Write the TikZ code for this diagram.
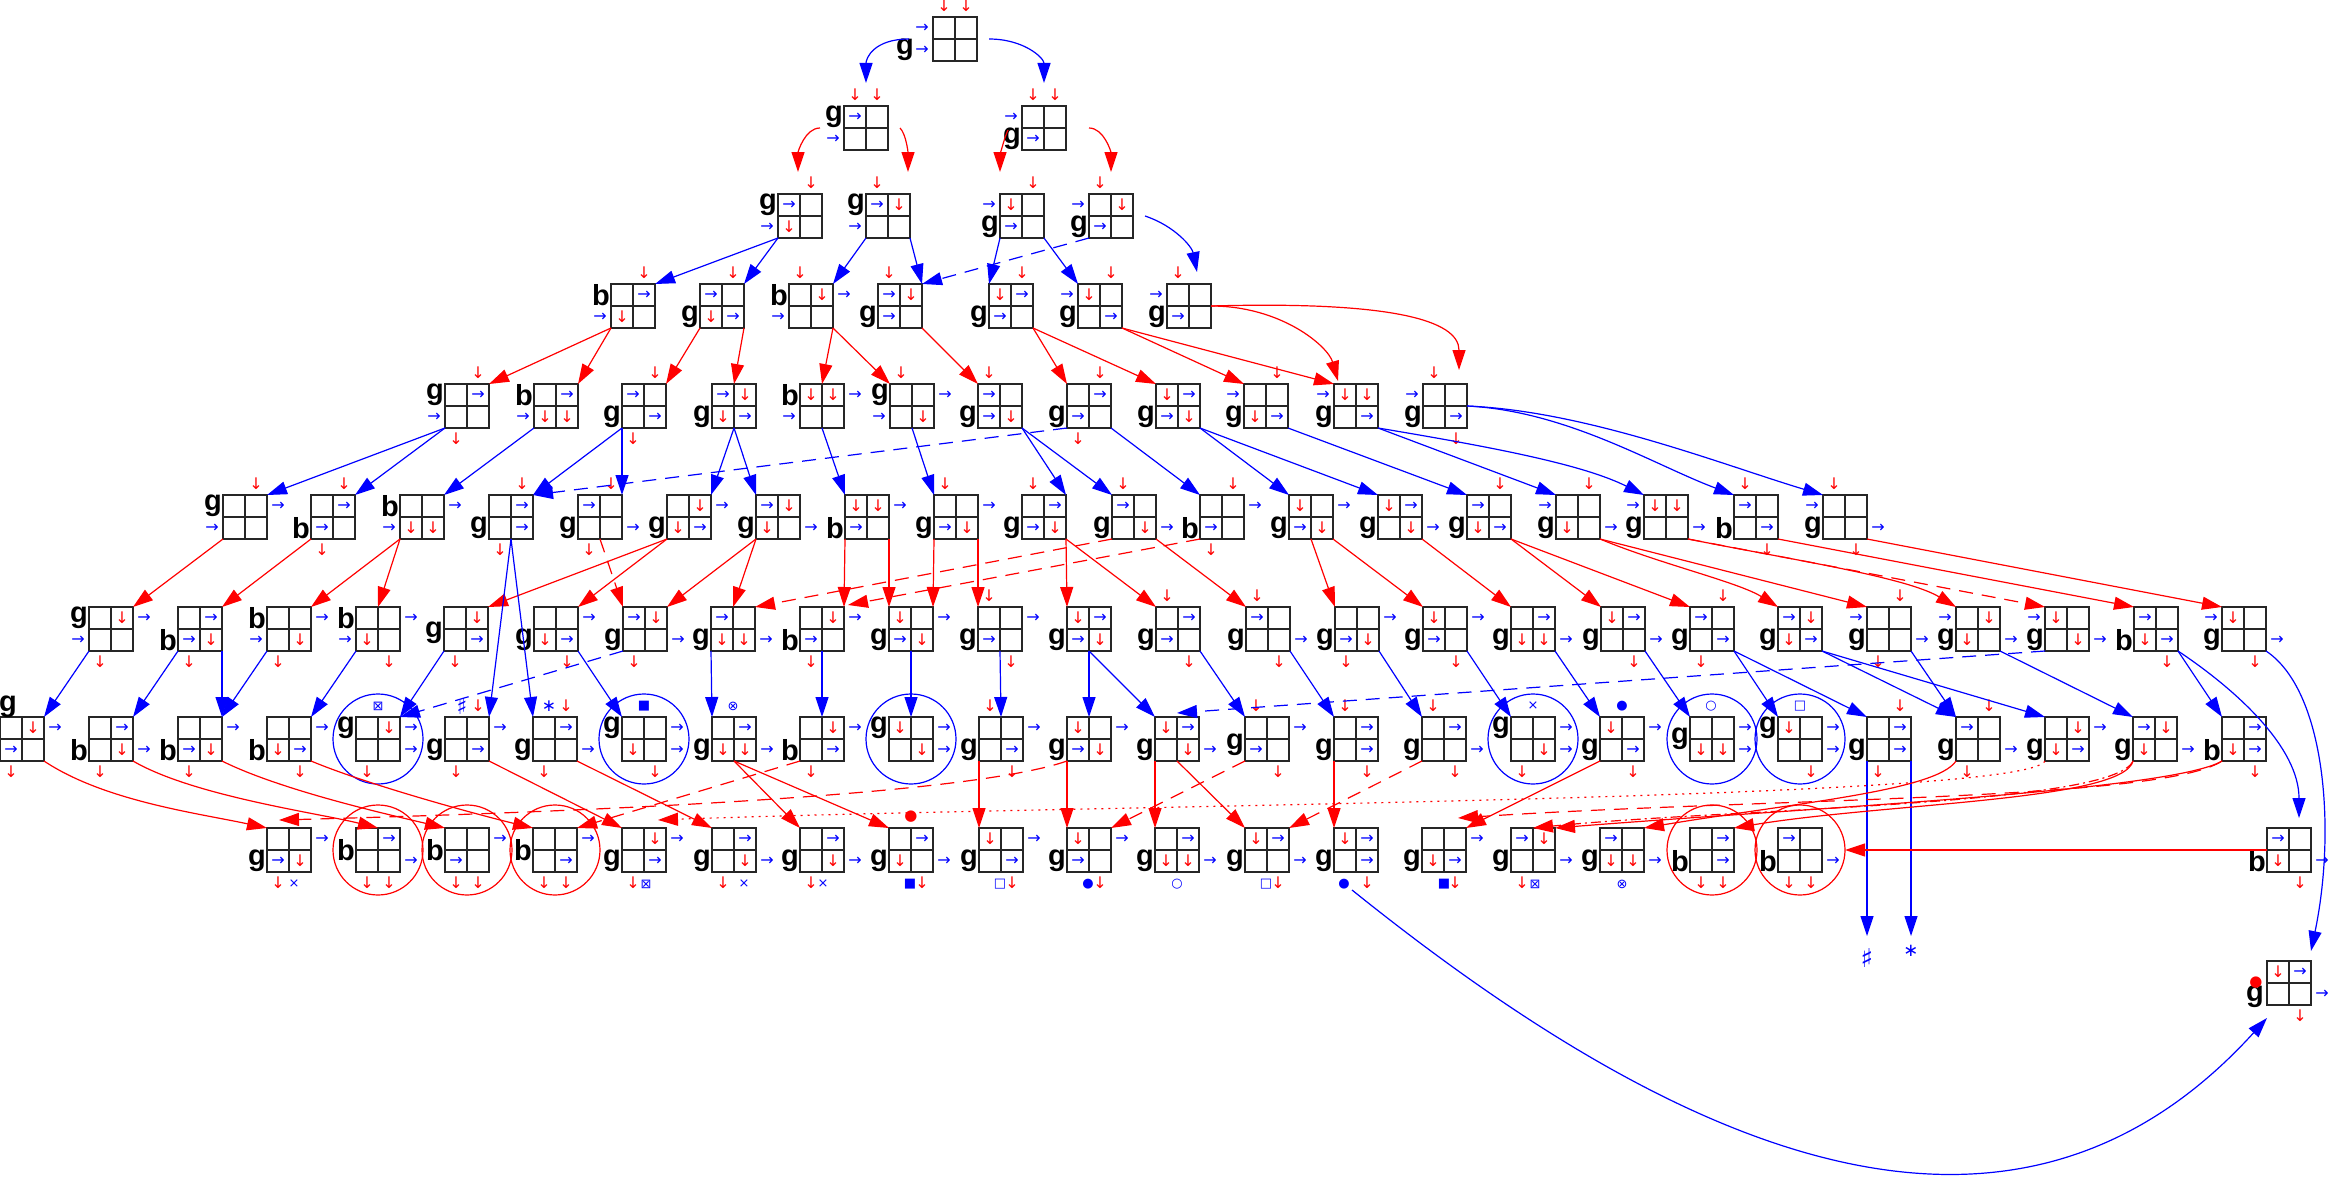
\documentclass[tikz,border=0pt]{standalone}
\usepackage{fontspec}
\setmainfont{Liberation Sans}
\newfontfamily\dv{DejaVu Sans}
\usetikzlibrary{arrows.meta,calc}
\tikzset{
  gridline/.style={draw=black!85, line width=1.4pt},
  ba/.style={text=blue, font=\dv\fontsize{16}{16}\selectfont, inner sep=0pt},
  ra/.style={text=red, font=\dv\fontsize{16}{16}\selectfont, inner sep=0pt},
  lbl/.style={font=\bfseries\fontsize{29}{29}\selectfont, inner sep=0pt, anchor=east},
  sym/.style={text=blue, font=\dv\fontsize{13}{13}\selectfont, inner sep=0pt},
  rsym/.style={text=red, font=\dv\fontsize{15}{15}\selectfont, inner sep=0pt},
  bl/.style={draw=blue, line width=1.2pt, -{Triangle[length=20pt,width=13pt]}},
  rd/.style={draw=red, line width=1.2pt, -{Triangle[length=20pt,width=13pt]}},
  dsh/.style={dash pattern=on 14pt off 9pt},
  dotl/.style={dash pattern=on 2pt off 5pt},
  dshdot/.style={dash pattern=on 10pt off 4pt on 2pt off 4pt},
  bcirc/.style={draw=blue, line width=1.2pt},
  rcirc/.style={draw=red, line width=1.2pt}
}
\newcommand\defit[2]{\expandafter\def\csname gi#1\endcsname{#2}}
\defit{L1}{\node[ba] at (-11,11) {→};}
\defit{L2}{\node[ba] at (-11,33) {→};}
\defit{R1}{\node[ba] at (55,11) {→};}
\defit{R2}{\node[ba] at (55,33) {→};}
\defit{T1}{\node[ra] at (11,-11) {↓};}
\defit{T2}{\node[ra] at (33,-11) {↓};}
\defit{B1}{\node[ra] at (11,55) {↓};}
\defit{B2}{\node[ra] at (33,55) {↓};}
\defit{ar}{\node[ba] at (11,11) {→};}
\defit{ad}{\node[ra] at (11,11) {↓};}
\defit{br}{\node[ba] at (33,11) {→};}
\defit{bd}{\node[ra] at (33,11) {↓};}
\defit{cr}{\node[ba] at (11,33) {→};}
\defit{cd}{\node[ra] at (11,33) {↓};}
\defit{dr}{\node[ba] at (33,33) {→};}
\defit{dd}{\node[ra] at (33,33) {↓};}
\newcommand\gnode[7]{%
  \begin{scope}[shift={(#2,#3)}]
    \draw[gridline] (0,0) rectangle (44,44) (22,0) -- (22,44) (0,22) -- (44,22);
    \node[inner sep=0pt, outer sep=0pt, minimum size=44pt, anchor=north west] (#1) at (0,0) {};
    \foreach \q in {#4}{\csname gi\q\endcsname}
    \node[lbl] at (#6,#7) {#5};
  \end{scope}}
\begin{document}
\begin{tikzpicture}[x=1pt,y=-1pt]
\fill[white] (0,0) rectangle (2339,1180);
\useasboundingbox (0,0) rectangle (2339,1180);
% row 0
\gnode{n0}{933}{17}{T1,T2,L1,L2}{g}{-19}{33}
% row 1
\gnode{n1a}{844}{106}{T1,T2,L2,ar}{g}{-1}{11}
\gnode{n1b}{1022}{106}{T1,T2,L1,cr}{g}{-1}{33}
% row 2
\gnode{n2a}{778}{194}{T2,L2,ar,cd}{g}{-1}{11}
\gnode{n2b}{866}{194}{T1,L2,ar,bd}{g}{-1}{11}
\gnode{n2c}{1000}{194}{T2,L1,ad,cr}{g}{-1}{33}
\gnode{n2d}{1089}{194}{T1,L1,bd,cr}{g}{-1}{33}
% row 3
\gnode{n3a}{611}{284}{T2,L2,br,cd}{b}{-1}{11}
\gnode{n3b}{700}{284}{T2,ar,cd,dr}{g}{-1}{33}
\gnode{n3c}{789}{284}{T1,L2,bd,R1}{b}{-1}{11}
\gnode{n3d}{878}{284}{T1,ar,bd,cr}{g}{-1}{33}
\gnode{n3e}{989}{284}{T2,ad,br,cr}{g}{-1}{33}
\gnode{n3f}{1078}{284}{T2,L1,ad,dr}{g}{-1}{33}
\gnode{n3g}{1167}{284}{T1,L1,cr}{g}{-1}{33}
% row 4
\gnode{n4a}{445}{384}{T2,L2,br,B1}{g}{-1}{11}
\gnode{n4b}{534}{384}{L2,br,cd,dd}{b}{-1}{11}
\gnode{n4c}{622}{384}{T2,ar,dr,B1}{g}{-1}{33}
\gnode{n4d}{712}{384}{ar,bd,cd,dr}{g}{-1}{33}
\gnode{n4e}{800}{384}{L2,ad,bd,R1}{b}{-1}{11}
\gnode{n4f}{890}{384}{T1,L2,dd,R1}{g}{-1}{11}
\gnode{n4g}{978}{384}{T1,ar,cr,dd}{g}{-1}{33}
\gnode{n4h}{1067}{384}{T2,br,cr,B1}{g}{-1}{33}
\gnode{n4i}{1156}{384}{ad,br,cr,dd}{g}{-1}{33}
\gnode{n4j}{1244}{384}{T2,L1,cd,dr}{g}{-1}{33}
\gnode{n4k}{1334}{384}{L1,ad,bd,dr}{g}{-1}{33}
\gnode{n4l}{1423}{384}{T1,L1,dr,B2}{g}{-1}{33}
% row 5
\gnode{n5a}{223}{495}{T2,L2,R1}{g}{-1}{11}
\gnode{n5b}{311}{495}{T2,br,cr,B1}{b}{-1}{33}
\gnode{n5c}{400}{495}{L2,cd,dd,R1}{b}{-1}{11}
\gnode{n5d}{489}{495}{T2,br,dr,B1}{g}{-1}{33}
\gnode{n5e}{578}{495}{T2,ar,R2,B1}{g}{-1}{33}
\gnode{n5f}{667}{495}{bd,cd,dr,R1}{g}{-1}{33}
\gnode{n5g}{756}{495}{ar,bd,cd,R2}{g}{-1}{33}
\gnode{n5h}{845}{495}{ad,bd,cr,R1}{b}{-1}{33}
\gnode{n5i}{934}{495}{T1,cr,dd,R1}{g}{-1}{33}
\gnode{n5j}{1022}{495}{T1,br,cr,dd}{g}{-1}{33}
\gnode{n5k}{1112}{495}{T1,ar,dd,R2}{g}{-1}{33}
\gnode{n5l}{1200}{495}{T2,cr,R1,B1}{b}{-1}{33}
\gnode{n5m}{1289}{495}{ad,cr,dd,R1}{g}{-1}{33}
\gnode{n5n}{1378}{495}{ad,br,dd,R2}{g}{-1}{33}
\gnode{n5o}{1467}{495}{T2,ar,cd,dr}{g}{-1}{33}
\gnode{n5p}{1556}{495}{T2,L1,cd,R2}{g}{-1}{33}
\gnode{n5q}{1644}{495}{L1,ad,bd,R2}{g}{-1}{33}
\gnode{n5r}{1734}{495}{T1,ar,dr,B2}{b}{-1}{33}
\gnode{n5s}{1823}{495}{T1,L1,R2,B2}{g}{-1}{33}
% row 6
\gnode{n6a}{89}{607}{L2,bd,R1,B1}{g}{-1}{11}
\gnode{n6b}{178}{607}{br,cr,dd,B1}{b}{-1}{33}
\gnode{n6c}{267}{607}{L2,dd,R1,B1}{b}{-1}{11}
\gnode{n6d}{356}{607}{L2,cd,R1,B2}{b}{-1}{11}
\gnode{n6e}{444}{607}{bd,dr,B1}{g}{-1}{26}
\gnode{n6f}{534}{607}{cd,dr,R1,B2}{g}{-1}{33}
\gnode{n6g}{623}{607}{ar,bd,R2,B1}{g}{-1}{33}
\gnode{n6h}{711}{607}{ar,cd,dd,R2}{g}{-1}{33}
\gnode{n6i}{800}{607}{bd,cr,R1,B1}{b}{-1}{33}
\gnode{n6j}{889}{607}{ad,cr,dd,R1}{g}{-1}{33}
\gnode{n6k}{978}{607}{T1,cr,R1,B2}{g}{-1}{33}
\gnode{n6l}{1067}{607}{ad,br,cr,dd}{g}{-1}{33}
\gnode{n6m}{1156}{607}{T1,br,cr,B2}{g}{-1}{33}
\gnode{n6n}{1246}{607}{T1,ar,R2,B2}{g}{-1}{33}
\gnode{n6o}{1335}{607}{cr,dd,R1,B1}{g}{-1}{33}
\gnode{n6p}{1423}{607}{ad,cr,R1,B2}{g}{-1}{33}
\gnode{n6q}{1511}{607}{br,cd,dd,R2}{g}{-1}{33}
\gnode{n6r}{1601}{607}{ad,br,R2,B2}{g}{-1}{33}
\gnode{n6s}{1690}{607}{T2,ar,dr,B1}{g}{-1}{33}
\gnode{n6t}{1778}{607}{ar,bd,cd,dr}{g}{-1}{33}
\gnode{n6u}{1867}{607}{T2,L1,R2,B1}{g}{-1}{33}
\gnode{n6v}{1956}{607}{L1,bd,cd,R2}{g}{-1}{33}
\gnode{n6w}{2045}{607}{L1,ad,dd,R2}{g}{-1}{33}
\gnode{n6x}{2134}{607}{ar,cd,dr,B2}{b}{-1}{33}
\gnode{n6y}{2222}{607}{L1,ad,R2,B2}{g}{-1}{33}
% row 7
\gnode{n7a}{0}{717}{bd,cr,R1,B1}{g}{17}{-10}
\gnode{n7b}{89}{717}{br,dd,R2,B1}{b}{-1}{33}
\gnode{n7c}{178}{717}{cr,dd,R1,B1}{b}{-1}{33}
\gnode{n7d}{267}{717}{cd,dr,R1,B2}{b}{-1}{33}
\gnode{n7e}{356}{717}{bd,R1,R2,B1}{g}{-1}{11}
\gnode{n7f}{445}{717}{T2,dr,R1,B1}{g}{-1}{33}
\gnode{n7g}{533}{717}{T2,br,R2,B1}{g}{-1}{33}
\gnode{n7h}{622}{717}{cd,R1,R2,B2}{g}{-1}{11}
\gnode{n7i}{712}{717}{br,cd,dd,R2}{g}{-1}{33}
\gnode{n7j}{800}{717}{bd,dr,R1,B1}{b}{-1}{33}
\gnode{n7k}{889}{717}{ad,dd,R1,R2}{g}{-1}{11}
\gnode{n7l}{979}{717}{T1,dr,R1,B2}{g}{-1}{33}
\gnode{n7m}{1067}{717}{ad,cr,dd,R1}{g}{-1}{33}
\gnode{n7n}{1155}{717}{ad,br,dd,R2}{g}{-1}{33}
\gnode{n7o}{1245}{717}{T1,cr,R1,B2}{g}{-1}{28}
\gnode{n7p}{1334}{717}{T1,br,dr,B2}{g}{-1}{33}
\gnode{n7q}{1422}{717}{T1,br,R2,B2}{g}{-1}{33}
\gnode{n7r}{1511}{717}{dd,R1,R2,B1}{g}{-1}{11}
\gnode{n7s}{1600}{717}{ad,dr,R1,B2}{g}{-1}{33}
\gnode{n7t}{1690}{717}{cd,dd,R1,R2}{g}{-1}{22}
\gnode{n7u}{1778}{717}{ad,R1,R2,B2}{g}{-1}{11}
\gnode{n7v}{1867}{717}{T2,br,dr,B1}{g}{-1}{33}
\gnode{n7w}{1956}{717}{T2,ar,R2,B1}{g}{-1}{33}
\gnode{n7x}{2045}{717}{bd,cd,dr,R1}{g}{-1}{33}
\gnode{n7y}{2133}{717}{ar,bd,cd,R2}{g}{-1}{33}
\gnode{n7z}{2222}{717}{br,cd,dr,B2}{b}{-1}{33}
% row 8
\gnode{n8a}{267}{828}{cr,dd,R1,B1}{g}{-1}{33}
\gnode{n8b}{356}{828}{br,R2,B1,B2}{b}{-1}{22}
\gnode{n8c}{445}{828}{cr,R1,B1,B2}{b}{-1}{22}
\gnode{n8d}{533}{828}{dr,R1,B1,B2}{b}{-1}{22}
\gnode{n8e}{622}{828}{bd,dr,R1,B1}{g}{-1}{33}
\gnode{n8f}{712}{828}{br,dd,R2,B1}{g}{-1}{33}
\gnode{n8g}{800}{828}{br,dd,R2,B1}{g}{-1}{33}
\gnode{n8h}{889}{828}{br,cd,R2,B2}{g}{-1}{33}
\gnode{n8i}{979}{828}{ad,dr,R1,B2}{g}{-1}{33}
\gnode{n8j}{1067}{828}{ad,cr,R1,B2}{g}{-1}{33}
\gnode{n8k}{1155}{828}{br,cd,dd,R2}{g}{-1}{33}
\gnode{n8l}{1245}{828}{ad,br,R2,B2}{g}{-1}{33}
\gnode{n8m}{1334}{828}{ad,br,dr,B2}{g}{-1}{33}
\gnode{n8n}{1422}{828}{cd,dr,R1,B2}{g}{-1}{33}
\gnode{n8o}{1511}{828}{ar,bd,R2,B1}{g}{-1}{33}
\gnode{n8p}{1600}{828}{ar,cd,dd,R2}{g}{-1}{33}
\gnode{n8q}{1690}{828}{br,dr,B1,B2}{b}{-1}{33}
\gnode{n8r}{1778}{828}{ar,R2,B1,B2}{b}{-1}{33}
\gnode{n8s}{2267}{828}{ar,cd,R2,B2}{b}{-1}{33}
\gnode{nF}{2267}{961}{ad,br,R2,B2}{g}{-3}{36}
% free ends
\coordinate (shp) at (1867,936);
\coordinate (ast) at (1911,936);
\coordinate (dotm) at ($(n8m.south west)+(18,18)$);
\node[sym, font=\dv\fontsize{26}{26}\selectfont] at (1867,958) {♯};
\node[sym, font=\dv\fontsize{18}{18}\selectfont] at (1911,951) {∗};
% symbols above row 7
\node[sym] at ($(n7e.north west)+(22,-11)$) {⊠};
\node[sym, font=\dv\fontsize{22}{22}\selectfont] at ($(n7f.north west)+(17,-11)$) {♯};
\node[sym, font=\dv\fontsize{17}{17}\selectfont] at ($(n7g.north west)+(16,-11)$) {∗};
\node[sym] at ($(n7h.north west)+(22,-11)$) {■};
\node[sym] at ($(n7i.north west)+(21,-11)$) {⊗};
\node[sym] at ($(n7r.north west)+(22,-11)$) {×};
\node[sym] at ($(n7s.north west)+(22,-11)$) {●};
\node[sym] at ($(n7t.north west)+(21,-11)$) {○};
\node[sym] at ($(n7u.north west)+(22,-11)$) {□};
\node[rsym] at ($(n8h.north west)+(22,-11)$) {●};
\node[rsym] at ($(nF.west)+(-11,0)$) {●};
% symbols below row 8
\node[sym] at ($(n8a.south west)+(27,12)$) {×};
\node[sym] at ($(n8e.south west)+(24,12)$) {⊠};
\node[sym] at ($(n8f.south west)+(32,12)$) {×};
\node[sym] at ($(n8g.south west)+(23,12)$) {×};
\node[sym] at ($(n8h.south west)+(21,12)$) {■};
\node[sym] at ($(n8i.south west)+(21,12)$) {□};
\node[sym] at ($(n8j.south west)+(21,12)$) {●};
\node[sym] at ($(n8k.south west)+(22,12)$) {○};
\node[sym] at ($(n8l.south west)+(21,12)$) {□};
\node[sym] at ($(n8m.south west)+(10,12)$) {●};
\node[sym] at ($(n8n.south west)+(22,12)$) {■};
\node[sym] at ($(n8o.south west)+(24,12)$) {⊠};
\node[sym] at ($(n8p.south west)+(22,12)$) {⊗};
% circles
\foreach \n in {n7e,n7h,n7k,n7r,n7t,n7u} \draw[bcirc] (\n.center) circle (45);
\foreach \n in {n8b,n8c,n8d,n8q,n8r} \draw[rcirc] (\n.center) circle (45);
% row 0 -> 1
\draw[bl] ($(n0.west)+(-24,0)$) .. controls +(-35,0) and +(0,-25) .. ($(n1a.north)+(0,-23)$);
\draw[bl] ($(n0.east)+(12,0)$) .. controls +(35,0) and +(0,-25) .. ($(n1b.north)+(0,-23)$);
% row 1 -> 2
\draw[rd] ($(n1a.west)+(-24,0)$) .. controls +(-15,0) and +(0,-20) .. ($(n2a.north west)+(20,-22)$);
\draw[rd] ($(n1a.east)+(12,0)$) .. controls +(6,6) and +(0,-20) .. ($(n2b.north east)+(-2,-22)$);
\draw[rd] ($(n1b.west)+(-14,2)$) .. controls +(-4,8) and +(0,-15) .. ($(n2c.north west)+(0,-22)$);
\draw[rd] ($(n1b.east)+(23,0)$) .. controls +(15,0) and +(0,-20) .. ($(n2d.north)+(0,-22)$);
% row 2 -> 3
\draw[bl] (n2a.south west) -- (n3a.north east);
\draw[bl] (n2a.south west) -- (n3b.north east);
\draw[bl] (n2b.south west) -- (n3c.north east);
\draw[bl] (n2b.south east) -- (n3d.north east);
\draw[bl] (n2c.south west) -- (n3e.north west);
\draw[bl] (n2c.south east) -- (n3f.north west);
\draw[bl,dsh] (n2d.south west) -- (n3d.north east);
\draw[bl] ($(n2d.east)+(12,0)$) .. controls +(30,10) and +(-5,-25) .. ($(n3g.north east)+(-14,-12)$);
% row 3 -> 4
\draw[rd] (n3a.south west) -- (n4a.north east);
\draw[rd] (n3a.south west) -- (n4b.north east);
\draw[rd] (n3b.south west) -- (n4c.north east);
\draw[rd] (n3b.south east) -- (n4d.north);
\draw[rd] (n3c.south east) -- (n4e.north);
\draw[rd] (n3c.south east) -- (n4f.north west);
\draw[rd] (n3d.south east) -- (n4g.north west);
\draw[rd] (n3e.south east) -- (n4h.north west);
\draw[rd] (n3e.south east) -- (n4i.north west);
\draw[rd] (n3f.south east) -- (n4j.north west);
\draw[rd] (n3f.south east) -- (n4k.north west);
\draw[rd] (n3g.east) .. controls +(70,0) and +(-10,-35) .. ($(n4k.north west)+(4,-3)$);
\draw[rd] (n3g.east) .. controls +(180,-5) and +(0,-50) .. ($(n4l.north east)+(-8,-14)$);
% row 4 -> 5
\draw[bl] (n4a.south west) -- (n5a.north east);
\draw[bl] (n4a.south west) -- (n5b.north east);
\draw[bl] (n4b.south west) -- (n5c.north east);
\draw[bl] (n4c.south west) -- (n5d.north east);
\draw[bl] (n4c.south west) -- (n5e.north east);
\draw[bl] (n4d.south) -- (n5f.north east);
\draw[bl] (n4d.south) -- (n5g.north west);
\draw[bl,dsh] (n4h.south west) -- (n5d.north east);
\draw[bl] (n4e.south) -- (n5h.north west);
\draw[bl] (n4f.south) -- (n5i.north west);
\draw[bl] (n4g.south east) -- (n5j.north east);
\draw[bl] (n4g.south east) -- (n5k.north west);
\draw[bl] (n4h.south east) -- (n5l.north west);
\draw[bl] (n4i.south east) -- (n5m.north west);
\draw[bl] (n4i.south east) -- (n5n.north west);
\draw[bl] (n4j.south east) -- (n5o.north west);
\draw[bl] (n4k.south east) -- (n5p.north west);
\draw[bl] (n4k.south east) .. controls +(120,20) and +(-60,-30) .. (n5q.north west);
\draw[bl] (n4l.east) .. controls +(100,5) and +(-80,-30) .. (n5r.north west);
\draw[bl] (n4l.east) .. controls +(120,5) and +(-100,-30) .. (n5s.north west);
% row 5 -> 6
\draw[rd] (n5a.south west) -- (n6a.north east);
\draw[rd] (n5b.south west) -- (n6b.north east);
\draw[rd] (n5c.south west) -- (n6c.north east);
\draw[rd] (n5c.south west) -- (n6d.north);
\draw[rd] (n5f.south west) -- (n6e.north east);
\draw[rd] (n5f.south west) -- (n6f.north east);
\draw[rd,dsh] (n5e.south) -- (n6g.north west);
\draw[rd] (n5g.south west) -- (n6g.north east);
\draw[rd] (n5g.south west) -- (n6h.north);
\draw[rd,dsh] (n5k.south west) -- (n6h.north east);
\draw[rd] (n5h.south west) -- (n6i.north east);
\draw[rd,dsh] (n5l.south west) -- ($(n6i.north east)+(4,-2)$);
\draw[rd] (n5h.south east) -- (n6j.north west);
\draw[rd] (n5i.south west) -- (n6j.north east);
\draw[rd] (n5i.south east) -- (n6k.north west);
\draw[rd] (n5j.south east) -- (n6l.north west);
\draw[rd] (n5j.south east) -- (n6m.north west);
\draw[rd] (n5k.south east) -- (n6n.north west);
\draw[rd] (n5m.south) -- (n6o.north west);
\draw[rd] (n5m.south east) -- (n6p.north west);
\draw[rd] (n5n.south east) -- (n6q.north west);
\draw[rd] (n5o.south east) -- (n6r.north west);
\draw[rd] (n5o.south east) -- (n6s.north west);
\draw[rd] (n5p.south east) .. controls +(60,25) and +(-40,-25) .. (n6t.north west);
\draw[rd] (n5p.south east) -- (n6u.north west);
\draw[rd] (n5q.south east) .. controls +(100,20) and +(-50,-30) .. (n6v.north west);
\draw[rd,dsh] (n5q.south east) -- (n6w.north west);
\draw[rd] (n5r.south east) -- (n6x.north west);
\draw[rd] (n5s.south east) -- (n6y.north west);
% row 5 -> 7
\draw[bl] (n5d.south) -- (n7f.north east);
\draw[bl] (n5d.south) -- (n7g.north west);
% row 6 -> 7
\draw[bl] (n6a.south west) -- (n7a.north east);
\draw[bl] (n6b.south west) -- (n7b.north east);
\draw[bl] (n6b.south east) -- (n7c.north east);
\draw[bl] (n6c.south west) -- (n7c.north east);
\draw[bl] (n6d.south west) -- (n7d.north east);
\draw[bl] (n6e.south west) -- (n7e.north east);
\draw[bl,dsh] (n6g.south west) -- (n7e.north east);
\draw[bl] (n6f.south east) -- (n7h.north west);
\draw[bl] (n6h.south west) -- (n7i.north west);
\draw[bl] (n6i.south) -- (n7j.north);
\draw[bl] (n6j.south) -- (n7k.north);
\draw[bl] (n6k.south) -- (n7l.north);
\draw[bl] (n6l.south) -- (n7m.north);
\draw[bl] (n6l.south) -- (n7n.north west);
\draw[bl,dsh] (n6w.south west) -- ($(n7n.north)+(0,-4)$);
\draw[bl] (n6m.south east) -- (n7o.north west);
\draw[bl] (n6n.south east) -- (n7p.north west);
\draw[bl] (n6o.south east) -- (n7q.north west);
\draw[bl] (n6p.south east) -- (n7r.north west);
\draw[bl] (n6q.south east) -- (n7s.north west);
\draw[bl] (n6r.south east) -- (n7t.north west);
\draw[bl] (n6s.south east) -- (n7u.north west);
\draw[bl] (n6s.south east) -- (n7v.north west);
\draw[bl] (n6t.south east) -- (n7w.north west);
\draw[bl] (n6t.south east) -- (n7x.north west);
\draw[bl] (n6u.south east) -- (n7w.north west);
\draw[bl] (n6v.south east) -- (n7y.north west);
\draw[bl] (n6x.south east) -- (n7z.north west);
\draw[bl] (n6x.south east) .. controls +(60,40) and +(0,-70) .. ($(n8s.north east)+(-12,-10)$);
\draw[bl] (n6y.south east) .. controls +(60,40) and +(25,-120) .. ($(nF.north east)+(0,-10)$);
\draw[bl] (n7v.south west) -- (shp);
\draw[bl] (n7v.south east) -- (ast);
% row 7 -> 8
\draw[rd] (n7a.south east) .. controls +(60,40) and +(-70,-15) .. (n8a.north west);
\draw[rd] (n7b.south east) .. controls +(60,35) and +(-60,-15) .. (n8b.north);
\draw[rd] (n7c.south east) .. controls +(60,30) and +(-50,-12) .. (n8c.north west);
\draw[rd] (n7d.south east) .. controls +(60,25) and +(-50,-12) .. (n8d.north west);
\draw[rd] (n7f.south east) -- (n8e.north west);
\draw[rd] (n7g.south east) -- (n8f.north west);
\draw[rd] (n7i.south) -- (n8g.north west);
\draw[rd] (n7i.south) -- (n8h.north west);
\draw[rd,dsh] (n7j.south west) -- (n8d.north east);
\draw[rd] (n7l.south west) -- (n8i.north west);
\draw[rd] (n7m.south west) -- (n8j.north west);
\draw[rd,dsh] (n7o.south west) -- (n8j.north east);
\draw[rd] (n7n.south west) -- (n8k.north west);
\draw[rd] (n7n.south) -- (n8l.north west);
\draw[rd,dsh] (n7q.south west) -- (n8l.north east);
\draw[rd] (n7p.south west) -- (n8m.north west);
\draw[rd] (n7s.south west) -- (n8n.north east);
\draw[rd,dsh] (n7m.south west) .. controls +(-100,35) and +(300,-8) .. ($(n8a.north west)+(12,-8)$);
\draw[rd,dotl] (n7x.south west) .. controls +(-20,40) and +(400,-15) .. ($(n8e.north east)+(-8,-8)$);
\draw[rd] (n7w.south west) .. controls +(-20,30) and +(150,-25) .. (n8p.north east);
\draw[rd] (n7y.south west) .. controls +(-10,40) and +(150,-25) .. (n8q.north east);
\draw[rd,dshdot] (n7y.south west) .. controls +(-20,45) and +(200,-20) .. (n8o.north);
\draw[rd] (n7z.south west) .. controls +(-50,30) and +(250,-20) .. (n8o.north east);
\draw[rd,dsh] (n7z.south west) .. controls +(-60,40) and +(300,-20) .. ($(n8n.north east)+(-8,-10)$);
\draw[rd] (n8s.west) -- ($(n8r.center)+(45,0)$);
% long blue curve
\draw[bl] (dotm) .. controls (1700,1170) and (2020,1290) .. ($(nF.south west)+(0,13)$);
\end{tikzpicture}
\end{document}
